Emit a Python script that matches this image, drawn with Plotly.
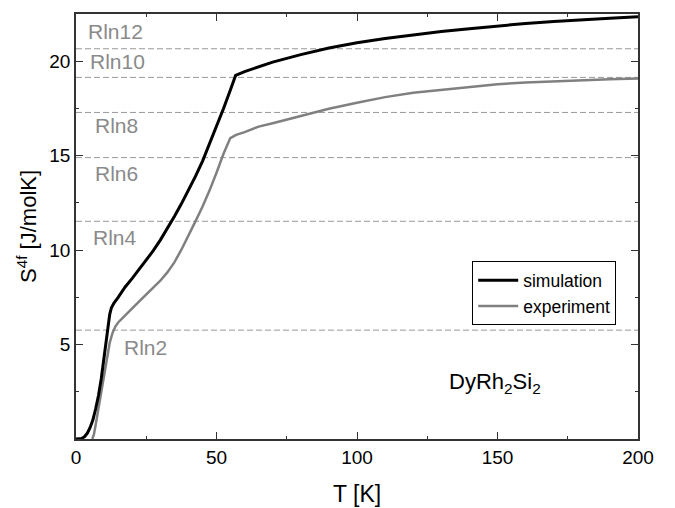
import math
import plotly.graph_objects as go

# Magnetic 4f entropy of DyRh2Si2 versus temperature
sim_T = [0, 1, 2, 3, 4, 5, 6, 7, 8, 9, 10, 11, 12, 12.6, 13.5, 15, 17.5, 20, 22.5,
         25, 27.5, 30, 32.5, 35, 37.5, 40, 42.5, 45, 47.5, 50, 52.5, 55, 56.8, 60,
         65, 70, 75, 80, 90, 100, 110, 120, 130, 140, 150, 160, 170, 180, 190, 200]
sim_S = [0, 0, 0.03, 0.12, 0.3, 0.6, 1.0, 1.6, 2.3, 3.2, 4.4, 5.5, 6.6, 6.95, 7.2,
         7.5, 8.05, 8.5, 8.97, 9.45, 9.97, 10.53, 11.13, 11.78, 12.45, 13.15, 13.9,
         14.7, 15.6, 16.55, 17.5, 18.5, 19.25, 19.45, 19.72, 19.95, 20.15, 20.35,
         20.7, 20.98, 21.2, 21.4, 21.57, 21.72, 21.87, 22.0, 22.1, 22.2, 22.28, 22.35]

exp_T = [5.8, 6.4, 7, 8, 9, 10, 11, 12, 13, 14, 15, 16, 17.5, 20, 22.5, 25, 27.5, 30,
         32.5, 35, 37.5, 40, 42.5, 45, 47.5, 50, 52.5, 54.9, 57, 60, 65, 70, 80, 90,
         100, 110, 120, 130, 140, 150, 160, 170, 180, 190, 200]
exp_S = [0, 0.25, 0.75, 1.65, 2.57, 3.45, 4.35, 5.1, 5.62, 5.95, 6.17, 6.33, 6.55,
         6.92, 7.29, 7.65, 8.0, 8.38, 8.82, 9.35, 10.02, 10.75, 11.52, 12.3, 13.15,
         14.1, 15.1, 15.93, 16.1, 16.25, 16.54, 16.72, 17.12, 17.48, 17.8, 18.1,
         18.33, 18.48, 18.65, 18.78, 18.88, 18.95, 19.01, 19.05, 19.08]

R = 8.314
levels = [2, 4, 6, 8, 10, 12]
level_names = ["Rln2", "Rln4", "Rln6", "Rln8", "Rln10", "Rln12"]
# label anchor (T, S) for each Rln level
label_T = [16.5, 5.5, 5.9, 5.9, 4.3, 3.7]
label_S = [4.85, 10.65, 14.05, 16.6, 20.0, 21.55]

FONT = "Liberation Sans, Arial, sans-serif"
GREY = "#8a8a8a"

fig = go.Figure()

for n in levels:
    s = R * math.log(n)
    fig.add_trace(go.Scatter(x=[0, 200], y=[s, s], mode="lines",
                             line=dict(color="#999999", width=1, dash="6px,3px"),
                             showlegend=False, hoverinfo="skip"))

fig.add_trace(go.Scatter(x=exp_T, y=exp_S, mode="lines", name="experiment",
                         line=dict(color="#808080", width=2.5)))
fig.add_trace(go.Scatter(x=sim_T, y=sim_S, mode="lines", name="simulation",
                         line=dict(color="black", width=3)))

annotations = []
for name, tx, sy in zip(level_names, label_T, label_S):
    annotations.append(dict(x=tx, y=sy, xref="x", yref="y", text=name,
                            showarrow=False, xanchor="left", yanchor="middle",
                            font=dict(family=FONT, size=21, color=GREY)))

annotations.append(dict(x=149, y=2.95, xref="x", yref="y",
                        text="DyRh<sub>2</sub>Si<sub>2</sub>", showarrow=False,
                        xanchor="center", yanchor="middle",
                        font=dict(family=FONT, size=22, color="black")))
annotations.append(dict(x=0.5, y=-0.13, xref="paper", yref="paper", text="T [K]",
                        showarrow=False, xanchor="center", yanchor="middle",
                        font=dict(family=FONT, size=23, color="black")))
annotations.append(dict(x=-0.088, y=0.5, xref="paper", yref="paper",
                        text="S<sup>4f</sup> [J/molK]", textangle=-90,
                        showarrow=False, xanchor="center", yanchor="middle",
                        font=dict(family=FONT, size=22, color="black")))

axis_common = dict(showgrid=False, zeroline=False, showline=True, linecolor="#333333",
                   linewidth=1.5, mirror="ticks", ticks="inside", ticklen=7,
                   tickwidth=1.2, tickcolor="#333333",
                   tickfont=dict(family=FONT, size=19, color="black"))

fig.update_layout(
    width=675, height=508,
    margin=dict(l=76, r=37, t=12, b=69),
    paper_bgcolor="white", plot_bgcolor="white",
    showlegend=True,
    legend=dict(x=0.705, y=0.418, xanchor="left", yanchor="top",
                bordercolor="black", borderwidth=1, bgcolor="white",
                traceorder="reversed", itemwidth=40, tracegroupgap=0,
                font=dict(family=FONT, size=17.5, color="black")),
    xaxis=dict(range=[0, 200], tickvals=[0, 50, 100, 150, 200],
               minor=dict(tickmode="array", tickvals=[25, 75, 125, 175],
                          ticks="inside", ticklen=3.5, tickcolor="#333333"),
               **axis_common),
    yaxis=dict(range=[0, 22.5], tickvals=[5, 10, 15, 20],
               minor=dict(tickmode="array", tickvals=[2.5, 7.5, 12.5, 17.5, 22.5],
                          ticks="inside", ticklen=3.5, tickcolor="#333333"),
               **axis_common),
    annotations=annotations,
)

fig.write_html("out.html")
